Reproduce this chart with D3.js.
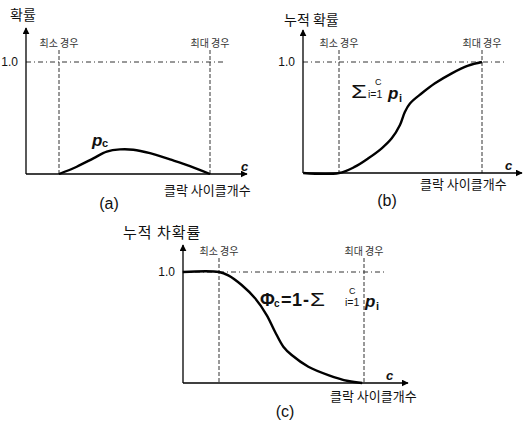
<!DOCTYPE html>
<html>
<head>
<meta charset="utf-8">
<script src="https://cdn.jsdelivr.net/npm/d3@7"></script>
<style>
  html, body { margin: 0; padding: 0; background: #fff; }
  svg { display: block; }
  .kr { font-family: "Noto Sans CJK KR", sans-serif; fill: #111; }
  .lat { font-family: "Liberation Sans", Arial, sans-serif; fill: #111; }
</style>
</head>
<body>
<div id="chart"></div>
<script>
// cycle counts (data units: minimum case = 2, maximum case = 10)
const cycA = [2, 2.94, 3.82, 4.53, 5.23, 5.94, 6.82, 7.88, 8.94, 10];
const probA = [0, 0.065, 0.14, 0.20, 0.22, 0.217, 0.186, 0.13, 0.071, 0];

const cycB = [0, 2, 2.90, 3.64, 4.39, 4.95, 5.41, 5.69, 5.97, 6.63, 7.37, 8.31, 9.23, 10];
const cumB = [0, 0, 0.057, 0.132, 0.222, 0.312, 0.432, 0.552, 0.627, 0.718, 0.808, 0.898, 0.967, 1.0];

const cycC = [0, 2, 2.51, 3.25, 3.99, 4.63, 5.09, 5.55, 6.01, 6.93, 8.03, 9.13, 9.9];
const compC = [1, 1, 0.97, 0.883, 0.763, 0.612, 0.462, 0.327, 0.252, 0.147, 0.072, 0.018, 0];

const caseTicks = [2, 10];
const caseLabels = ["최소 경우", "최대 경우"];
const oneLabel = "1.0";
const xTitle = "클락 사이클개수";

const width = 524, height = 424;
const svg = d3.select("#chart").append("svg")
  .attr("width", width).attr("height", height);

svg.append("defs").append("marker")
  .attr("id", "arrow")
  .attr("viewBox", "0 0 10 10")
  .attr("refX", 9).attr("refY", 5)
  .attr("markerWidth", 7).attr("markerHeight", 7)
  .attr("markerUnits", "userSpaceOnUse")
  .attr("orient", "auto")
  .append("path").attr("d", "M0,0 L10,5 L0,10 Z").attr("fill", "#000");

// panel layout
const panels = [
  { id: "a", ax: 26, top: 28, base: 174, end: 247, minX: 59, maxX: 210, oneY: 62, refEnd: 223, dashTop: 50,
    title: "확률", titleX: 10, titleY: 20, titleSize: 14,
    cyc: cycA, vals: probA, capX: 109, capY: 209, xtX: 164, xtY: 195, cX: 241, cY: 171 },
  { id: "b", ax: 303, top: 30, base: 173, end: 522, minX: 339, maxX: 482, oneY: 62, refEnd: 507, dashTop: 50,
    title: "누적 확률", titleX: 284, titleY: 25, titleSize: 14,
    cyc: cycB, vals: cumB, capX: 387, capY: 206, xtX: 420, xtY: 189, cX: 505, cY: 170 },
  { id: "c", ax: 183, top: 245, base: 383, end: 408, minX: 219, maxX: 364, oneY: 272, refEnd: 384, dashTop: 258,
    title: "누적 차확률", titleX: 123, titleY: 238, titleSize: 15,
    cyc: cycC, vals: compC, capX: 285, capY: 417, xtX: 330, xtY: 401, cX: 386, cY: 380 }
];

panels.forEach(p => {
  const g = svg.append("g").attr("class", "panel-" + p.id);
  const x = d3.scaleLinear().domain(caseTicks).range([p.minX, p.maxX]);
  const y = d3.scaleLinear().domain([0, 1]).range([p.base, p.oneY]);

  // reference lines
  g.append("line")
    .attr("x1", p.ax).attr("x2", p.refEnd)
    .attr("y1", y(1)).attr("y2", y(1))
    .attr("stroke", "#333").attr("stroke-width", 1)
    .attr("stroke-dasharray", "5,3,1,3");
  caseTicks.forEach((c, i) => {
    g.append("line")
      .attr("x1", x(c)).attr("x2", x(c))
      .attr("y1", p.dashTop).attr("y2", p.base)
      .attr("stroke", "#333").attr("stroke-width", 1)
      .attr("stroke-dasharray", "4,2");
    g.append("text").attr("class", "kr")
      .attr("x", x(c)).attr("y", p.dashTop - 3)
      .attr("text-anchor", "middle")
      .attr("font-size", 10).style("fill", "#333")
      .text(caseLabels[i]);
  });

  // axes with arrows
  g.append("line")
    .attr("x1", p.ax).attr("x2", p.ax)
    .attr("y1", p.base).attr("y2", p.top)
    .attr("stroke", "#000").attr("stroke-width", 1.3)
    .attr("marker-end", "url(#arrow)");
  g.append("line")
    .attr("x1", p.ax).attr("x2", p.end)
    .attr("y1", p.base).attr("y2", p.base)
    .attr("stroke", "#000").attr("stroke-width", 1.3)
    .attr("marker-end", "url(#arrow)");

  g.append("text").attr("class", "lat")
    .attr("x", p.ax - 8).attr("y", y(1))
    .attr("dominant-baseline", "central")
    .attr("text-anchor", "end").attr("font-size", 12)
    .text(oneLabel);

  // curve
  const pts = p.cyc.map((c, i) => [c, p.vals[i]]);
  g.append("path")
    .datum(pts)
    .attr("fill", "none").attr("stroke", "#000").attr("stroke-width", 2.4)
    .attr("stroke-linejoin", "round")
    .attr("d", d3.line().x(d => x(d[0])).y(d => y(d[1])).curve(d3.curveCatmullRom.alpha(0.5)));

  // titles
  g.append("text").attr("class", "kr")
    .attr("x", p.titleX).attr("y", p.titleY)
    .attr("font-size", p.titleSize)
    .attr("letter-spacing", p.id === "c" ? 1 : 0)
    .text(p.title);
  g.append("text").attr("class", "kr")
    .attr("x", p.xtX).attr("y", p.xtY)
    .attr("font-size", 13)
    .text(xTitle);
  g.append("text").attr("class", "lat")
    .attr("x", p.cX).attr("y", p.cY)
    .attr("font-size", 13).attr("font-style", "italic").attr("font-weight", "bold")
    .text("c");
  g.append("text").attr("class", "lat")
    .attr("x", p.capX).attr("y", p.capY)
    .attr("text-anchor", "middle").attr("font-size", 16)
    .text("(" + p.id + ")");
});

// small helper for a text piece
function piece(t, px, py, size, opts = {}) {
  return svg.append("text").attr("class", "lat")
    .attr("x", px).attr("y", py)
    .attr("font-size", size)
    .attr("font-weight", opts.bold ? "bold" : "normal")
    .attr("font-style", opts.italic ? "italic" : "normal")
    .attr("textLength", opts.len || null)
    .attr("lengthAdjust", opts.len ? "spacingAndGlyphs" : null)
    .text(t);
}

// (a) p_c
piece("p", 92, 146, 17, { bold: true, italic: true });
piece("c", 102, 147, 11, { bold: true });

// (b) sum label
piece("Σ", 351, 98, 18, { len: 16 });
piece("C", 375, 85, 9);
piece("i=1", 368, 98, 10.5);
piece("p", 388, 99, 17, { bold: true, italic: true });
piece("i", 399, 102, 11, { bold: true });

// (c) Phi formula
piece("Φ", 260, 306, 18, { bold: true });
piece("c", 274, 307, 10, { bold: true });
piece("=", 281, 306, 18, { bold: true });
piece("1", 292, 306, 18, { bold: true });
piece("-", 303, 306, 18, { bold: true });
piece("Σ", 310, 306, 19, { len: 15 });
piece("C", 349, 294, 9);
piece("i=1", 345, 306, 10.5);
piece("p", 365, 307, 17, { bold: true, italic: true });
piece("i", 376, 310, 11, { bold: true });
</script>
</body>
</html>
